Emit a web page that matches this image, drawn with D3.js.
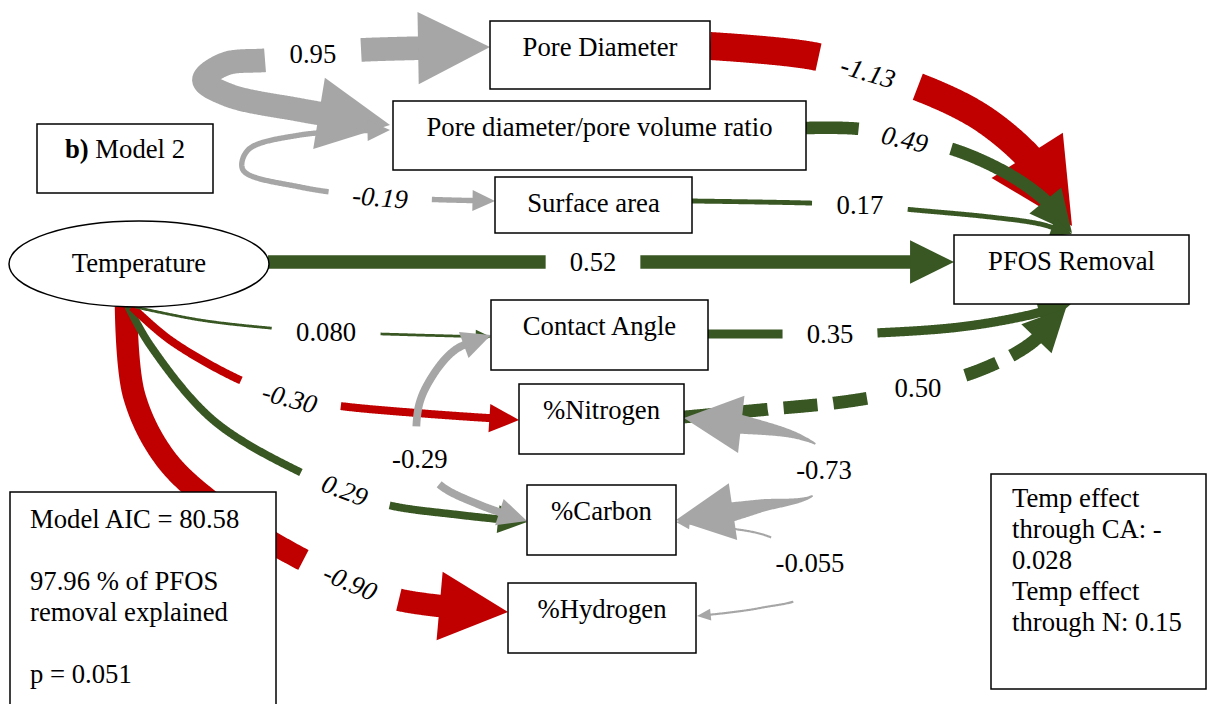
<!DOCTYPE html>
<html>
<head>
<meta charset="utf-8">
<script src="https://cdn.jsdelivr.net/npm/d3@7"></script>
<style>
    body { margin: 0; background: #fff; font-family: 'Liberation Serif', 'Times New Roman', 'DejaVu Serif', serif; }
    svg { display: block; }
    text { font-family: 'Liberation Serif', 'Times New Roman', 'DejaVu Serif', serif; }
</style>
</head>
<body>
<svg id="grafico"></svg>
<script>
"use strict"
// variabili del modello
const variabili = ["Pore Diameter", "Pore diameter/pore volume ratio", "Surface area", "Temperature", "PFOS Removal",
    "Contact Angle", "%Nitrogen", "%Carbon", "%Hydrogen"];

// percorsi: da -> a, coefficiente, correlazione (doppia freccia)
const percorsiDa = ["Pore Diameter", "Pore diameter/pore volume ratio", "Surface area", "Temperature", "Contact Angle",
    "%Nitrogen", "Temperature", "Temperature", "Temperature", "Temperature",
    "Pore diameter/pore volume ratio", "Pore diameter/pore volume ratio", "%Carbon", "Contact Angle", "%Nitrogen"];
const percorsiA = ["PFOS Removal", "PFOS Removal", "PFOS Removal", "PFOS Removal", "PFOS Removal",
    "PFOS Removal", "%Hydrogen", "%Carbon", "%Nitrogen", "Contact Angle",
    "Pore Diameter", "Surface area", "%Hydrogen", "%Carbon", "%Carbon"];
const coefficienti = ["-1.13", "0.49", "0.17", "0.52", "0.35", "0.50", "-0.90", "0.29", "-0.30", "0.080",
    "0.95", "-0.19", "-0.055", "-0.29", "-0.73"];
const correlazioni = [false, false, false, false, false, false, false, false, false, false,
    true, true, true, true, true];

// testi dei riquadri
const titolo = ["b)", " Model 2"];
const righeModello = ["Model AIC = 80.58", "", "97.96 % of PFOS", "removal explained", "", "p = 0.051"];
const righeEffetti = ["Temp effect", "through CA: -", "0.028", "Temp effect", "through N: 0.15"];

// impaginazione (coordinate del disegno originale)
const grafico = { w: 1207, h: 704 };
const carattere = "'Liberation Serif', 'Times New Roman', 'DejaVu Serif', serif";
const riquadri = {
    "Pore Diameter": [490, 21, 710, 89],
    "Pore diameter/pore volume ratio": [393, 101, 806, 170],
    "Surface area": [495, 177, 692, 233],
    "Temperature": [9, 221, 269, 307],
    "PFOS Removal": [954, 235, 1189, 304],
    "Contact Angle": [491, 300, 708, 370],
    "%Nitrogen": [519, 384, 684, 454],
    "%Carbon": [527, 485, 676, 555],
    "%Hydrogen": [508, 583, 696, 653]
};
const tracciati = [
    { punti: [[710, 46], [813, 56], [868, 72], [921, 88], [985, 120], [1040, 170], [1072, 226]], etichetta: 2, corsivo: true },
    { punti: [[806, 128], [860, 129], [905, 139], [955, 150], [1010, 175], [1048, 203], [1072, 233]], etichetta: 2, corsivo: true },
    { punti: [[692, 201], [808, 203], [860, 205], [915, 210], [990, 217], [1040, 224], [1072, 234]], etichetta: 2 },
    { punti: [[268, 262], [593, 262], [954, 262]], etichetta: 1 },
    { punti: [[708, 334], [785, 334], [830, 334], [875, 333], [960, 327], [1025, 316], [1071, 304]], etichetta: 2 },
    { punti: [[684, 417], [760, 410], [850, 401], [918, 388], [980, 370], [1030, 344], [1066, 308]], etichetta: 3, tratteggio: "34 16" },
    { punti: [[126, 306], [134, 395], [165, 458], [215, 505], [285, 550], [350, 582], [400, 600], [508, 612]], etichetta: 5, corsivo: true },
    { punti: [[128, 306], [150, 345], [213, 420], [300, 472], [345, 490], [388, 505], [460, 515], [527, 522]], etichetta: 4, corsivo: true },
    { punti: [[132, 307], [170, 340], [240, 380], [290, 398], [340, 406], [430, 414], [519, 420]], etichetta: 3, corsivo: true },
    { punti: [[135, 307], [200, 320], [270, 328], [326, 332], [382, 334], [491, 337]], etichetta: 3 },
    { punti: [[390, 125], [300, 110], [228, 95], [204, 80], [225, 64], [268, 60], [313, 54], [360, 50], [490, 47]], etichetta: 6 },
    { punti: [[390, 130], [300, 135], [248, 150], [243, 170], [300, 187], [380, 197], [495, 201]], etichetta: 5, corsivo: true },
    { punti: [[676, 522], [720, 527], [770, 537], [810, 563], [805, 595], [760, 608], [697, 616]], etichetta: 3 },
    { punti: [[491, 335], [455, 350], [430, 380], [418, 410], [420, 459], [440, 485], [480, 505], [527, 521]], etichetta: 4, margine: 14 },
    { punti: [[684, 418], [745, 425], [800, 437], [822, 450], [824, 470], [815, 494], [760, 506], [720, 514], [676, 520]], etichetta: 4, affusolato: true, margine: 16 }
];

const rosso = "#C00000";
const verde = "#385723";
const grigio = "#A6A6A6";
const fontSize = 26.7;

const svg = d3.select("#grafico")
    .attr("width", grafico.w)
    .attr("height", grafico.h)
    .attr("font-family", carattere);

const scalaX = d3.scaleLinear().domain([0, 1207]).range([0, grafico.w]);
const scalaY = d3.scaleLinear().domain([0, 704]).range([0, grafico.h]);
const spessore = d3.scaleLinear()
    .domain([0, d3.max(coefficienti, function (c) { return Math.abs(+c) })])
    .range([0.8, 28]);

const curva = d3.line().curve(d3.curveCatmullRom.alpha(0.5));
const retta = d3.line();

const archi = svg.append("g").attr("class", "archi");

tracciati.forEach(function (t, i) {
    const valore = +coefficienti[i];
    const w = spessore(Math.abs(valore));
    const col = correlazioni[i] ? grigio : (valore < 0 ? rosso : verde);
    const gruppo = archi.append("g")
        .attr("class", "arco")
        .attr("data-da", percorsiDa[i])
        .attr("data-a", percorsiA[i]);
    const punti = t.punti.map(function (p) { return [scalaX(p[0]), scalaY(p[1])] });

    const guida = gruppo.append("path")
        .attr("d", curva(punti))
        .attr("fill", "none")
        .attr("stroke", "none");
    const nodo = guida.node();
    const L = nodo.getTotalLength();
    const P = function (s) {
        const q = nodo.getPointAtLength(Math.max(0, Math.min(L, s)));
        return [q.x, q.y];
    };
    const campioni = d3.range(0, L, 1).concat([L]);

    // posizione dell'etichetta sul percorso
    const bersaglio = punti[t.etichetta];
    const sL = d3.least(campioni, function (s) {
        const p = P(s);
        return (p[0] - bersaglio[0]) ** 2 + (p[1] - bersaglio[1]) ** 2;
    });
    const a = P(sL - 3), b = P(sL + 3);
    const ang = Math.atan2(b[1] - a[1], b[0] - a[0]);
    const centro = P(sL);

    const testo = gruppo.append("text")
        .attr("x", centro[0])
        .attr("y", centro[1])
        .attr("dy", "0.35em")
        .attr("text-anchor", "middle")
        .attr("font-family", carattere)
        .attr("font-size", fontSize)
        .attr("font-style", t.corsivo ? "italic" : "normal")
        .attr("fill", "#000")
        .text(coefficienti[i]);
    if (t.corsivo) testo.attr("transform", `rotate(${ang * 180 / Math.PI}, ${centro[0]}, ${centro[1]})`);

    const tw = testo.node().getComputedTextLength();
    const th = 20;
    const pad = t.margine || 24;
    const meta = t.corsivo ? tw / 2 + pad
        : Math.abs(Math.cos(ang)) * tw / 2 + Math.abs(Math.sin(ang)) * th / 2 + pad;

    const lp = 8 + 2.7 * w; // lunghezza punta
    const mp = 3 + 1.4 * w; // semi-larghezza punta
    const inizio = correlazioni[i] ? lp * 0.75 : 0;
    const fine = L - lp * 0.75;
    const pezzi = [[inizio, sL - meta], [sL + meta, fine]];

    pezzi.forEach(function (pz, k) {
        if (pz[1] <= pz[0]) return;
        const ss = [pz[0]].concat(campioni.filter(function (s) { return s > pz[0] && s < pz[1] }), [pz[1]]);
        if (t.affusolato) {
            const lato1 = [], lato2 = [];
            ss.forEach(function (s) {
                const p = P(s), p0 = P(s - 1), p1 = P(s + 1);
                let dx = p1[0] - p0[0], dy = p1[1] - p0[1];
                const n = Math.hypot(dx, dy) || 1;
                dx /= n; dy /= n;
                const f = (s - pz[0]) / (pz[1] - pz[0]);
                const larg = 1.2 * w * (k === 0 ? 1 - 0.92 * f : 0.08 + 0.92 * f);
                lato1.push([p[0] - dy * larg / 2, p[1] + dx * larg / 2]);
                lato2.push([p[0] + dy * larg / 2, p[1] - dx * larg / 2]);
            });
            gruppo.append("path")
                .attr("d", retta(lato1.concat(lato2.reverse())) + "Z")
                .attr("fill", col);
        } else {
            gruppo.append("path")
                .attr("d", retta(ss.map(P)))
                .attr("fill", "none")
                .attr("stroke", col)
                .attr("stroke-width", w)
                .attr("stroke-dasharray", t.tratteggio || null);
        }
    });

    function punta(sPunta, verso) {
        const tip = P(sPunta), dietro = P(sPunta - verso * lp);
        let dx = tip[0] - dietro[0], dy = tip[1] - dietro[1];
        const n = Math.hypot(dx, dy) || 1;
        dx /= n; dy /= n;
        const bx = tip[0] - dx * lp, by = tip[1] - dy * lp;
        gruppo.append("path")
            .attr("d", `M${tip[0]},${tip[1]}L${bx - dy * mp},${by + dx * mp}L${bx + dy * mp},${by - dx * mp}Z`)
            .attr("fill", col);
    }
    punta(L, 1);
    if (correlazioni[i]) punta(0, -1);

    testo.raise();
});

// nodi
const nodi = svg.append("g").attr("class", "nodi")
    .selectAll("g")
    .data(variabili)
    .enter()
    .append("g");

nodi.each(function (v) {
    const r = riquadri[v];
    const g = d3.select(this);
    const x0 = scalaX(r[0]), y0 = scalaY(r[1]), x1 = scalaX(r[2]), y1 = scalaY(r[3]);
    if (v === "Temperature") {
        g.append("ellipse")
            .attr("cx", (x0 + x1) / 2)
            .attr("cy", (y0 + y1) / 2)
            .attr("rx", (x1 - x0) / 2)
            .attr("ry", (y1 - y0) / 2)
            .attr("fill", "#fff")
            .attr("stroke", "#000")
            .attr("stroke-width", 1.5);
        g.append("text")
            .attr("x", (x0 + x1) / 2)
            .attr("y", (y0 + y1) / 2 + 8)
            .attr("text-anchor", "middle")
            .attr("font-family", carattere)
            .attr("font-size", fontSize)
            .text(v);
    } else {
        g.append("rect")
            .attr("x", x0)
            .attr("y", y0)
            .attr("width", x1 - x0)
            .attr("height", y1 - y0)
            .attr("fill", "#fff")
            .attr("stroke", "#000")
            .attr("stroke-width", 1.5);
        g.append("text")
            .attr("x", (x0 + x1) / 2)
            .attr("y", y0 + 35)
            .attr("text-anchor", "middle")
            .attr("font-family", carattere)
            .attr("font-size", fontSize)
            .text(v);
    }
});

// riquadri di testo
const info = svg.append("g").attr("class", "info").attr("font-family", carattere);

info.append("rect")
    .attr("x", scalaX(37)).attr("y", scalaY(124))
    .attr("width", scalaX(176)).attr("height", scalaY(69))
    .attr("fill", "#fff").attr("stroke", "#000").attr("stroke-width", 1.5);
const t1 = info.append("text")
    .attr("x", scalaX(125)).attr("y", scalaY(158))
    .attr("text-anchor", "middle")
    .attr("font-family", carattere)
    .attr("font-size", fontSize);
t1.append("tspan").attr("font-weight", "bold").text(titolo[0]);
t1.append("tspan").text(titolo[1]);

info.append("rect")
    .attr("x", scalaX(10)).attr("y", scalaY(492))
    .attr("width", scalaX(266)).attr("height", scalaY(240))
    .attr("fill", "#fff").attr("stroke", "#000").attr("stroke-width", 1.5);
info.selectAll(".modello")
    .data(righeModello)
    .enter()
    .append("text")
    .attr("class", "modello")
    .attr("x", scalaX(30))
    .attr("y", function (d, i) { return scalaY(528 + i * 31) })
    .attr("font-family", carattere)
    .attr("font-size", fontSize)
    .text(function (d) { return d });

info.append("rect")
    .attr("x", scalaX(991)).attr("y", scalaY(474))
    .attr("width", scalaX(215)).attr("height", scalaY(215))
    .attr("fill", "#fff").attr("stroke", "#000").attr("stroke-width", 1.5);
info.selectAll(".effetti")
    .data(righeEffetti)
    .enter()
    .append("text")
    .attr("class", "effetti")
    .attr("x", scalaX(1012))
    .attr("y", function (d, i) { return scalaY(507 + i * 31) })
    .attr("font-family", carattere)
    .attr("font-size", fontSize)
    .text(function (d) { return d });
</script>
</body>
</html>
